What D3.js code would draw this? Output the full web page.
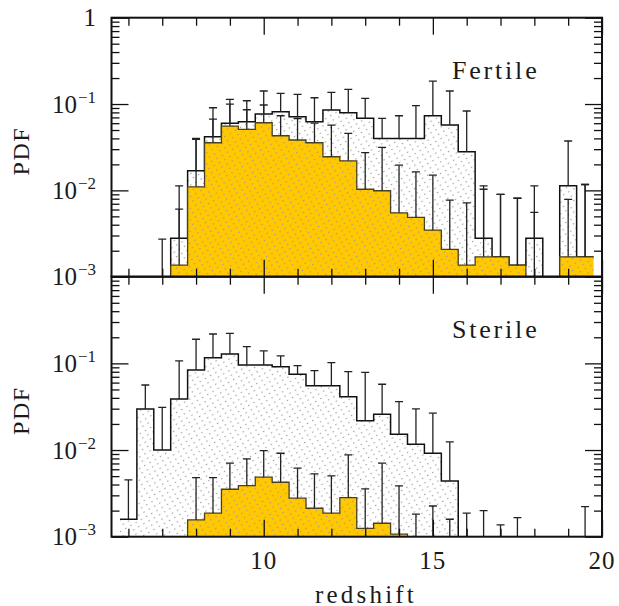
<!DOCTYPE html>
<html>
<head>
<meta charset="utf-8">
<script src="https://cdn.jsdelivr.net/npm/d3@7"></script>
<style>
  body { margin: 0; background: #fff; }
  svg text { font-family: "Liberation Serif", "DejaVu Serif", serif; fill: #1a1a1a; }
</style>
</head>
<body>
<div id="chart"></div>
<script>
// bin centres (redshift), width 0.5
var centers = [6.0, 6.5, 7.0, 7.5, 8.0, 8.5, 9.0, 9.5, 10.0, 10.5, 11.0, 11.5, 12.0, 12.5,
               13.0, 13.5, 14.0, 14.5, 15.0, 15.5, 16.0, 16.5, 17.0, 17.5, 18.0, 18.5, 19.0, 19.5];

// top panel: all haloes (white) and fertile (yellow)
var fertAll = [0, 0, 0, 0.00278, 0.0169, 0.0418, 0.0598, 0.0624, 0.0766, 0.0814, 0.0713, 0.0624, 0.0852, 0.0793,
               0.0683, 0.040, 0.040, 0.040, 0.0732, 0.0571, 0.028, 0.00278, 0.0017, 0.00136, 0.00278, 0, 0.0113, 0.0017];
var fertAllErr = [null, null, 0.00273, 0.0113, 0.040, 0.0906, 0.1133, 0.1092, 0.1415, 0.133, 0.1295, 0.1183, 0.1367, 0.148,
                  0.1164, 0.0683, 0.0732, 0.0956, 0.1847, 0.1415, 0.083, 0.0113, 0.0090, 0.0081, 0.0113, null, 0.0373, 0.0117];
var fertSel = [0, 0, 0, 0.00136, 0.0110, 0.0356, 0.0556, 0.0509, 0.0607, 0.0429, 0.0383, 0.0356, 0.0245, 0.0220,
               0.0103, 0.0099, 0.0055, 0.00487, 0.00347, 0.00207, 0.00136, 0.0017, 0.0017, 0.00136, 0, 0, 0.0017, 0.0017];
var fertSelErr = [null, null, null, 0.00607, 0.039, 0.067, 0.100, 0.0859, 0.0974, 0.0732, 0.068, 0.060, 0.0571, 0.0458,
                  0.0273, 0.0315, 0.0196, 0.0164, 0.0150, 0.00772, 0.00718, 0.0103, 0.0090, 0.0081, 0.00556, null, 0.00787, 0.0117];

// bottom panel: all haloes (white) and sterile (yellow)
var sterAll = [0.00159, 0.0298, 0.0100, 0.0388, 0.0839, 0.1164, 0.1284, 0.0958, 0.0958, 0.0916, 0.0749, 0.0553, 0.0553, 0.0413,
               0.0217, 0.0259, 0.0152, 0.01167, 0.00918, 0.0044, 0, 0, 0, 0, 0, 0, 0, 0];
var sterAllErr = [0.00452, 0.0563, 0.031, 0.1066, 0.1897, 0.2183, 0.2224, 0.156, 0.139, 0.1217, 0.094, 0.0824, 0.1019, 0.0802,
                  0.0789, 0.0574, 0.0362, 0.0298, 0.0266, 0.0124, 0.00187, 0.0020, 0.00137, 0.00166, null, null, null, 0.00222];
var sterSel = [0, 0, 0, 0, 0.00156, 0.00187, 0.00353, 0.00388, 0.00486, 0.00425, 0.00278, 0.00213, 0.00187, 0.00282,
               0.00125, 0.00143, 0.00107, 0, 0, 0, 0, 0, 0, 0, 0, 0, 0, 0];
var sterSelErr = [null, null, null, null, 0.00481, 0.00481, 0.00705, 0.00789, 0.00984, 0.00918, 0.00617, 0.0053, 0.00503, 0.00878,
                  0.00356, 0.00705, 0.00385, 0.00182, 0.00226, 0.00159, null, null, null, null, null, null, null, null];

var xMajor = [10, 15, 20];
var xMinor = [6, 7, 8, 9, 11, 12, 13, 14, 16, 17, 18, 19];
var yMajor = [1e-3, 1e-2, 1e-1, 1];
var topLabels = [{v: 1, base: "1", exp: ""}, {v: 1e-1, base: "10", exp: "\u22121"},
                 {v: 1e-2, base: "10", exp: "\u22122"}, {v: 1e-3, base: "10", exp: "\u22123"}];
var botLabels = [{v: 1e-1, base: "10", exp: "\u22121"}, {v: 1e-2, base: "10", exp: "\u22122"},
                 {v: 1e-3, base: "10", exp: "\u22123"}];

var W = 619, H = 606;
var L = 111.5, R = 602;
var halfBin = 0.25;
var yellow = "#ffc800";

var svg = d3.select("#chart").append("svg").attr("width", W).attr("height", H);
var defs = svg.append("defs");

var pat = defs.append("pattern")
    .attr("id", "dots")
    .attr("patternUnits", "userSpaceOnUse")
    .attr("width", 6).attr("height", 5)
    .attr("patternTransform", "rotate(-30)");
pat.append("rect").attr("x", 0).attr("y", 0).attr("width", 1.4).attr("height", 1.1).attr("fill", "#9a9a9a");

var x = d3.scaleLinear().domain([5.5, 20]).range([L, R]);

function histPoints(vals) {
    var pts = [];
    centers.forEach(function(c, i) {
        var v = vals[i] > 0 ? vals[i] : 1e-3;
        pts.push([c - halfBin, v]);
        pts.push([c + halfBin, v]);
    });
    return pts;
}

function drawPanel(top, bottom, allV, allE, selV, selE, labels, name, nameY, clipId) {
    var y = d3.scaleLog().domain([1e-3, 1]).range([bottom, top]);
    var g = svg.append("g");

    defs.append("clipPath").attr("id", clipId)
        .append("rect").attr("x", L).attr("y", top).attr("width", R - L).attr("height", bottom - top);
    var plot = g.append("g").attr("clip-path", "url(#" + clipId + ")");

    var area = d3.area().x(function(d) { return x(d[0]); }).y0(bottom).y1(function(d) { return y(d[1]); });
    var line = d3.line().x(function(d) { return x(d[0]); }).y(function(d) { return y(d[1]); });

    var pa = histPoints(allV), ps = histPoints(selV);

    plot.append("path").attr("d", area(pa)).attr("fill", "#fff");
    plot.append("path").attr("d", area(pa)).attr("fill", "url(#dots)");
    plot.append("path").attr("d", line(pa)).attr("fill", "none").attr("stroke", "#111").attr("stroke-width", 1.5);

    plot.append("path").attr("d", area(ps)).attr("fill", yellow);
    plot.append("path").attr("d", area(ps)).attr("fill", "url(#dots)");
    plot.append("path").attr("d", line(ps)).attr("fill", "none").attr("stroke", "#4a4020").attr("stroke-width", 1.3);

    // error bars (upper side)
    function errBars(vals, errs) {
        var data = centers.map(function(c, i) { return {c: c, v: vals[i], e: errs[i]}; })
                          .filter(function(d) { return d.e != null; });
        var eg = plot.append("g").attr("stroke", "#222").attr("stroke-width", 1.3);
        eg.selectAll("line.v").data(data).enter().append("line")
            .attr("x1", function(d) { return x(d.c); }).attr("x2", function(d) { return x(d.c); })
            .attr("y1", function(d) { return d.v > 0 ? y(d.v) : bottom; })
            .attr("y2", function(d) { return y(d.e); });
        eg.selectAll("line.cap").data(data).enter().append("line")
            .attr("x1", function(d) { return x(d.c) - 4; }).attr("x2", function(d) { return x(d.c) + 4; })
            .attr("y1", function(d) { return y(d.e); }).attr("y2", function(d) { return y(d.e); });
    }
    errBars(allV, allE);
    errBars(selV, selE);

    // y ticks, both sides
    var yMinor = y.ticks().filter(function(t) { return yMajor.indexOf(t) < 0; });
    function axisY(gen, xpos, vals, size) {
        var a = g.append("g").attr("transform", "translate(" + xpos + ",0)")
            .call(gen(y).tickValues(vals).tickSize(-size).tickFormat(""));
        a.select(".domain").remove();
        a.selectAll("line").attr("stroke", "#111").attr("stroke-width", 1.3);
    }
    axisY(d3.axisLeft, L, yMajor, 17);
    axisY(d3.axisLeft, L, yMinor, 8);
    axisY(d3.axisRight, R, yMajor, 17);
    axisY(d3.axisRight, R, yMinor, 8);

    // x ticks, top and bottom
    function axisX(gen, ypos, vals, size) {
        var a = g.append("g").attr("transform", "translate(0," + ypos + ")")
            .call(gen(x).tickValues(vals).tickSize(-size).tickFormat(""));
        a.select(".domain").remove();
        a.selectAll("line").attr("stroke", "#111").attr("stroke-width", 1.3);
    }
    axisX(d3.axisTop, top, xMajor, 17);
    axisX(d3.axisTop, top, xMinor, 8);
    axisX(d3.axisBottom, bottom, xMajor, 17);
    axisX(d3.axisBottom, bottom, xMinor, 8);

    g.append("rect").attr("x", L).attr("y", top).attr("width", R - L).attr("height", bottom - top)
        .attr("fill", "none").attr("stroke", "#111").attr("stroke-width", 2);

    // tick labels with superscripts
    labels.forEach(function(l) {
        var t = g.append("text").attr("x", 96).attr("y", y(l.v) + 8.5)
            .attr("text-anchor", "end").style("font-size", "25px");
        t.append("tspan").text(l.base);
        if (l.exp) {
            t.append("tspan").attr("dx", 1).attr("dy", -10).style("font-size", "17px").text(l.exp);
        }
    });

    g.append("text").attr("transform", "translate(29," + ((top + bottom) / 2 + 4) + ") rotate(-90)")
        .attr("text-anchor", "middle").style("font-size", "24px").style("letter-spacing", "1.5px").text("PDF");

    g.append("text").attr("x", 452).attr("y", nameY).style("font-size", "26px")
        .style("letter-spacing", "2.8px").text(name);
}

drawPanel(17.7, 276.7, fertAll, fertAllErr, fertSel, fertSelErr, topLabels, "Fertile", 79, "clipTop");
drawPanel(276.7, 536.7, sterAll, sterAllErr, sterSel, sterSelErr, botLabels, "Sterile", 338, "clipBot");

svg.selectAll("text.xl").data(xMajor).enter().append("text")
    .attr("class", "xl")
    .attr("x", function(d) { return x(d); }).attr("y", 569)
    .attr("text-anchor", "middle").style("font-size", "25px").style("letter-spacing", "1px")
    .text(function(d) { return d; });

svg.append("text").attr("x", 366).attr("y", 602.5).attr("text-anchor", "middle")
    .style("font-size", "25px").style("letter-spacing", "3.2px").text("redshift");
</script>
</body>
</html>
